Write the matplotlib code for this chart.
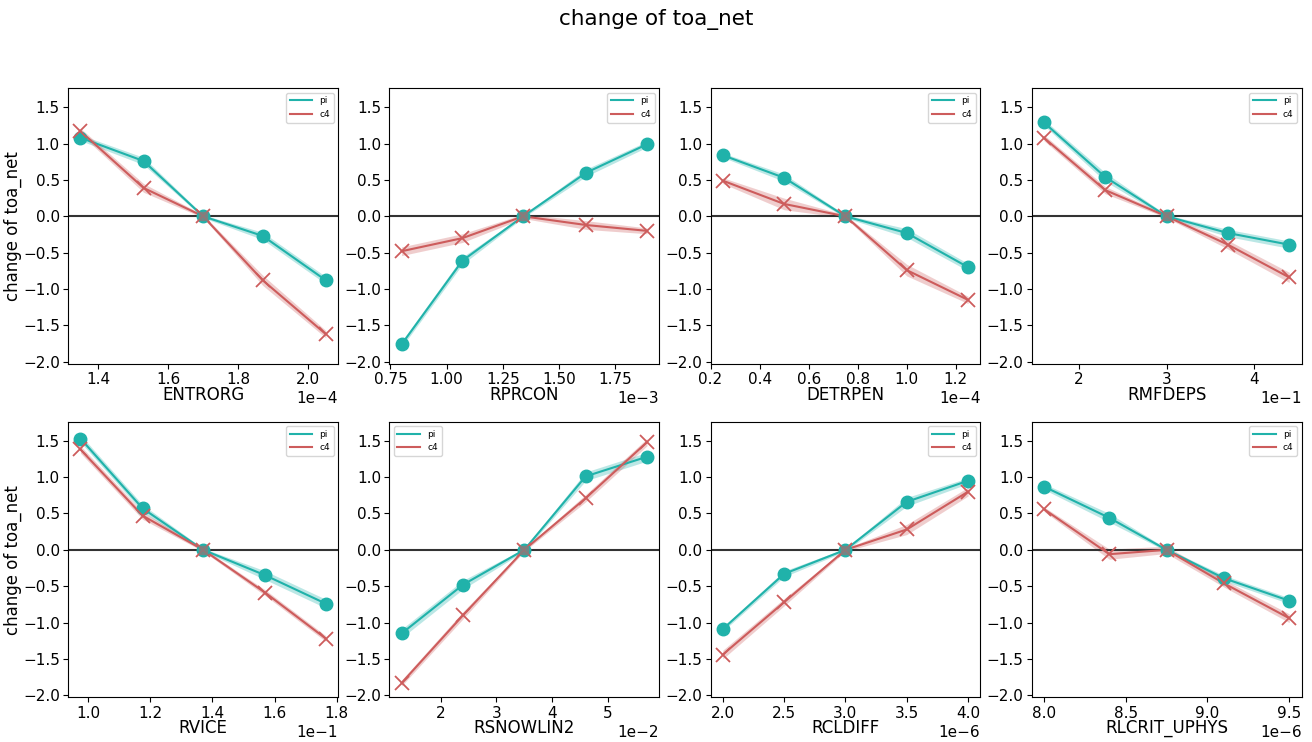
#!/usr/bin/env python3
"""
change of toa_net for each perturbed parameter, pi vs c4
"""

import numpy as np
import matplotlib
matplotlib.use("Agg")
import matplotlib.pyplot as plt
from matplotlib.ticker import MultipleLocator

# parameter names
params = ["ENTRORG", "RPRCON", "DETRPEN", "RMFDEPS",
          "RVICE", "RSNOWLIN2", "RCLDIFF", "RLCRIT_UPHYS"]

# parameter values (mantissa) and scale
xvals = [
    [1.35, 1.53, 1.70, 1.87, 2.05],
    [0.80, 1.07, 1.34, 1.62, 1.89],
    [0.25, 0.50, 0.75, 1.00, 1.25],
    [1.6, 2.3, 3.0, 3.7, 4.4],
    [0.975, 1.175, 1.37, 1.57, 1.765],
    [1.3, 2.4, 3.5, 4.6, 5.7],
    [2.0, 2.5, 3.0, 3.5, 4.0],
    [8.0, 8.4, 8.75, 9.1, 9.5],
]
xscale = [1e-4, 1e-3, 1e-4, 1e-1, 1e-1, 1e-2, 1e-6, 1e-6]
# tick step per panel (None = default)
xstep = [0.2e-4, 0.25e-3, 0.2e-4, None, 0.2e-1, None, 0.5e-6, 0.5e-6]

# change of toa_net, pi experiment
pi_vals = [
    [1.08, 0.76, 0.0, -0.27, -0.88],
    [-1.76, -0.61, 0.0, 0.60, 0.99],
    [0.84, 0.53, 0.0, -0.23, -0.70],
    [1.29, 0.54, 0.0, -0.23, -0.39],
    [1.53, 0.57, 0.0, -0.35, -0.74],
    [-1.15, -0.48, 0.0, 1.01, 1.28],
    [-1.09, -0.33, 0.0, 0.66, 0.95],
    [0.87, 0.44, 0.0, -0.39, -0.70],
]
# change of toa_net, c4 experiment
c4_vals = [
    [1.17, 0.39, 0.0, -0.88, -1.62],
    [-0.48, -0.30, 0.0, -0.12, -0.20],
    [0.49, 0.17, 0.0, -0.74, -1.15],
    [1.08, 0.36, 0.0, -0.39, -0.84],
    [1.38, 0.47, 0.0, -0.59, -1.22],
    [-1.83, -0.90, 0.0, 0.71, 1.48],
    [-1.44, -0.72, 0.0, 0.28, 0.80],
    [0.56, -0.06, 0.0, -0.46, -0.94],
]
# half width of the shaded spread
pi_err = [
    [0.04, 0.05, 0.02, 0.05, 0.05],
    [0.04, 0.05, 0.02, 0.05, 0.04],
    [0.03, 0.05, 0.02, 0.06, 0.05],
    [0.04, 0.06, 0.02, 0.05, 0.05],
    [0.05, 0.05, 0.02, 0.06, 0.06],
    [0.06, 0.06, 0.02, 0.06, 0.06],
    [0.03, 0.04, 0.02, 0.06, 0.04],
    [0.04, 0.06, 0.02, 0.04, 0.04],
]
c4_err = [
    [0.04, 0.06, 0.02, 0.07, 0.05],
    [0.06, 0.06, 0.03, 0.06, 0.04],
    [0.04, 0.08, 0.02, 0.08, 0.05],
    [0.04, 0.05, 0.02, 0.06, 0.07],
    [0.05, 0.05, 0.02, 0.04, 0.04],
    [0.04, 0.05, 0.02, 0.05, 0.05],
    [0.06, 0.05, 0.02, 0.07, 0.06],
    [0.03, 0.07, 0.05, 0.05, 0.06],
]
legend_loc = ["upper right", "upper right", "upper right", "upper right",
              "upper right", "upper left", "upper right", "upper right"]

PI_COL = "#20b2aa"
C4_COL = "#cd5c5c"


def main():
    fig, axes = plt.subplots(2, 4, figsize=(13.12, 7.42), dpi=100)
    fig.subplots_adjust(left=0.052, right=0.992, top=0.881, bottom=0.06,
                        wspace=0.19, hspace=0.21)
    fig.suptitle("change of toa_net", fontsize=15.5, y=0.988)

    for i, ax in enumerate(axes.flat):
        x = np.array(xvals[i]) * xscale[i]
        pi = np.array(pi_vals[i])
        c4 = np.array(c4_vals[i])
        epi = np.array(pi_err[i])
        ec4 = np.array(c4_err[i])

        ax.fill_between(x, pi - epi, pi + epi, color=PI_COL, alpha=0.3, lw=0)
        ax.fill_between(x, c4 - ec4, c4 + ec4, color=C4_COL, alpha=0.3, lw=0)
        ax.plot(x, pi, color=PI_COL, lw=1.5, label="pi")
        ax.plot(x, c4, color=C4_COL, lw=1.5, label="c4")
        ax.plot(x, pi, "o", color=PI_COL, ms=9, ls="none")
        ax.plot(x, c4, "x", color=C4_COL, ms=10, mew=1.3, ls="none")
        ax.plot(x[2], 0.0, "s", color="grey", ms=6, alpha=0.8)
        ax.axhline(0.0, color="#333333", lw=1.5, zorder=1)

        ax.set_ylim(-2.03, 1.76)
        ax.set_yticks(np.arange(-2.0, 1.51, 0.5))
        if xstep[i] is not None:
            ax.xaxis.set_major_locator(MultipleLocator(xstep[i]))
        ax.ticklabel_format(axis="x", style="sci", scilimits=(0, 0))
        ax.tick_params(labelsize=11, pad=2.5)
        ax.xaxis.get_offset_text().set_fontsize(11)
        ax.set_xlabel(params[i], fontsize=12, labelpad=-1)
        if i % 4 == 0:
            ax.set_ylabel("change of toa_net", fontsize=12, labelpad=1)
        ax.legend(loc=legend_loc[i], fontsize=6.5, handlelength=2.5)

    fig.savefig("out.png")


if __name__ == "__main__":
    main()
